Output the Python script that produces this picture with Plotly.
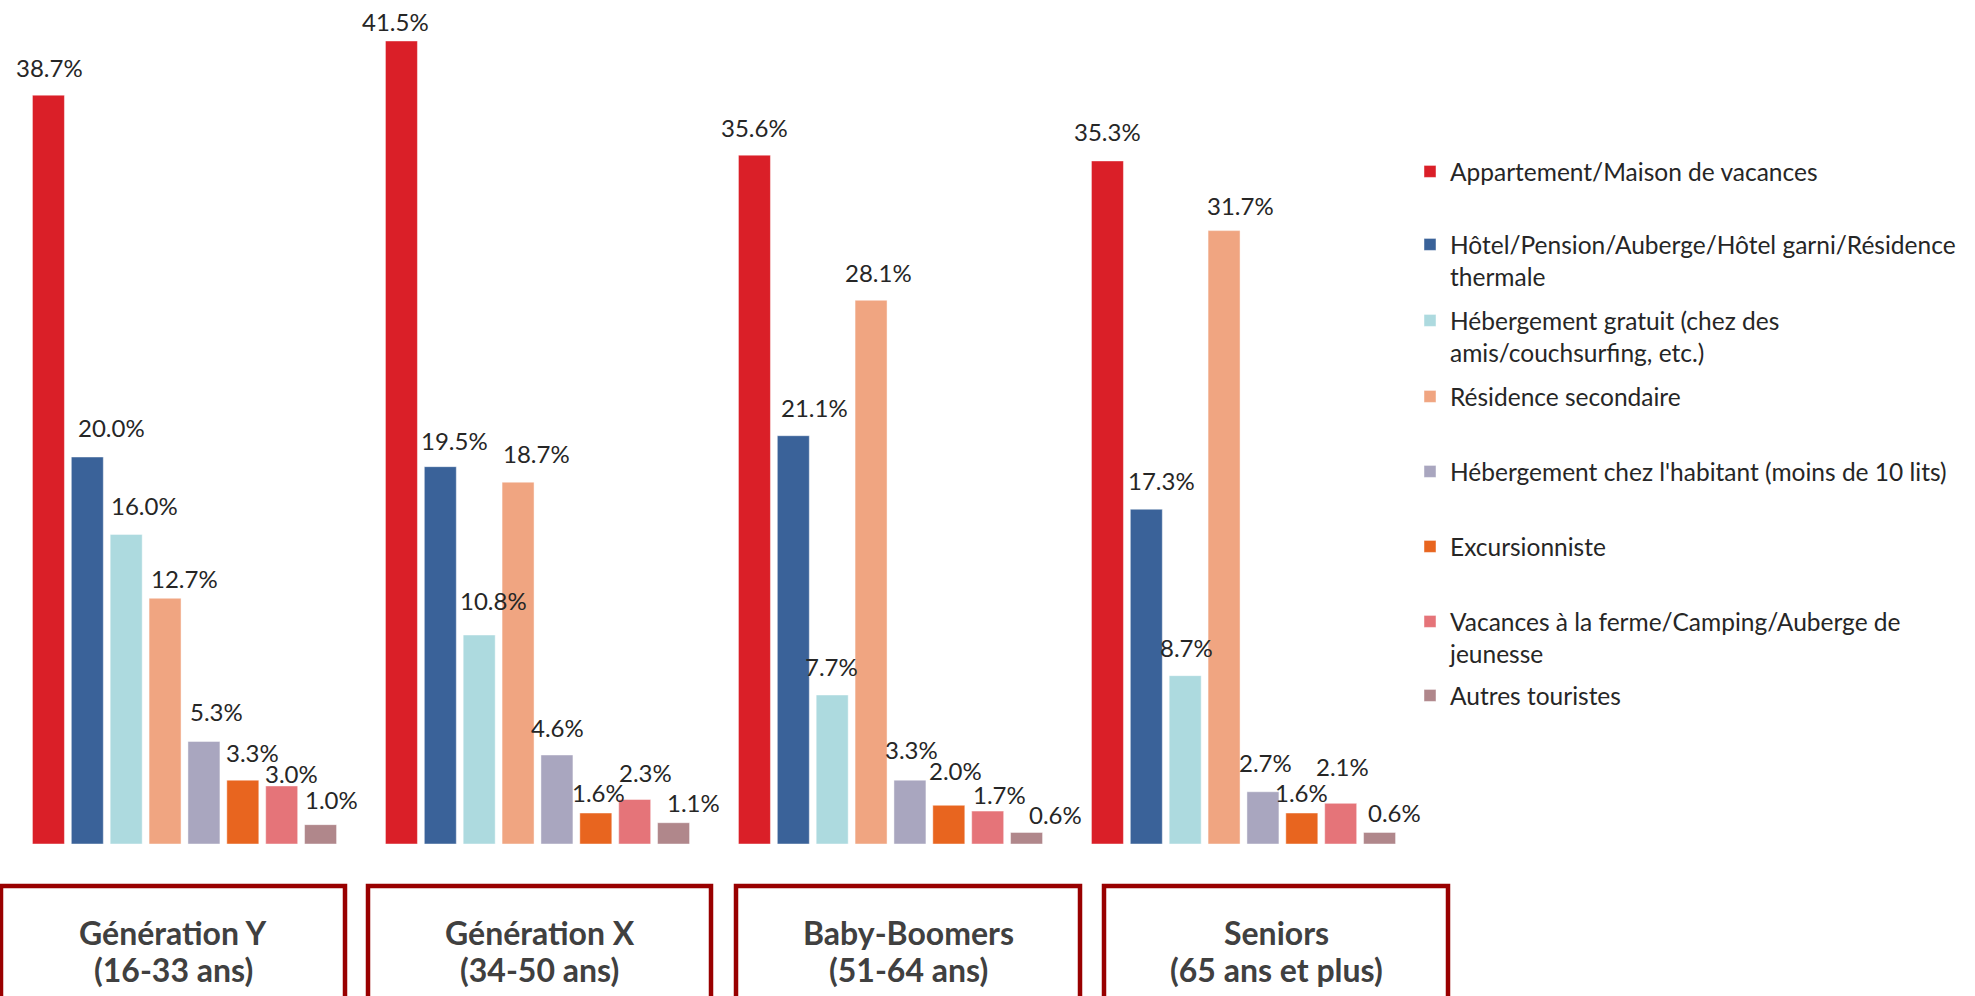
import plotly.graph_objects as go

# ---- data -------------------------------------------------------------
groups = ["Génération Y", "Génération X", "Baby-Boomers", "Seniors"]
group_ages = ["(16-33 ans)", "(34-50 ans)", "(51-64 ans)", "(65 ans et plus)"]

series_names = [
    "Appartement/Maison de vacances",
    "Hôtel/Pension/Auberge/Hôtel garni/Résidence<br>thermale",
    "Hébergement gratuit (chez des<br>amis/couchsurfing, etc.)",
    "Résidence secondaire",
    "Hébergement chez l'habitant (moins de 10 lits)",
    "Excursionniste",
    "Vacances à la ferme/Camping/Auberge de<br>jeunesse",
    "Autres touristes",
]

appartement = [38.7, 41.5, 35.6, 35.3]
hotel = [20.0, 19.5, 21.1, 17.3]
gratuit = [16.0, 10.8, 7.7, 8.7]
residence = [12.7, 18.7, 28.1, 31.7]
habitant = [5.3, 4.6, 3.3, 2.7]
excursion = [3.3, 1.6, 2.0, 1.6]
ferme = [3.0, 2.3, 1.7, 2.1]
autres = [1.0, 1.1, 0.6, 0.6]

series_values = [appartement, hotel, gratuit, residence, habitant, excursion, ferme, autres]

colors = ["#DA1F28", "#3A6299", "#ADDADF", "#F0A581",
          "#A9A6BF", "#E8651F", "#E57479", "#B0878B"]

# label nudges (px): horizontal shift and gap between text baseline and bar top
label_dx = [
    [1, -6, 0, 0],
    [5, -5, 2, -4],
    [-1, -5, -13, -11],
    [0, -1, -12, -3],
    [0, -12, -11, -10],
    [-3, -10, -6, -13],
    [-3, -2, -1, -11],
    [-2, 7, 16, 2],
]
label_gap = [
    [17, 9, 17, 19],
    [19, 16, 18, 18],
    [18, 24, 18, 18],
    [9, 18, 17, 15],
    [19, 17, 20, 19],
    [17, 10, 24, 10],
    [2, 17, 6, 26],
    [15, 10, 7, 9],
]

# ---- geometry ---------------------------------------------------------
W_FIG, H_FIG = 1975, 996
M_L, M_R, M_T, M_B = 8, 555, 4, 152
PLOT_W = W_FIG - M_L - M_R
PLOT_H = H_FIG - M_T - M_B
PX_PER_PCT = 19.35
Y_MAX = PLOT_H / PX_PER_PCT

BARGAP = 0.119
BARGROUPGAP = 0.177

FONT = "Lato, 'Open Sans', sans-serif"
TEXT_COLOR = "#262626"
BOX_COLOR = "#990000"


def px_x(px):
    return (px - M_L) / PLOT_W


def px_y(py):
    return (H_FIG - M_B - py) / PLOT_H


fig = go.Figure()

legend_keys = ["legend"] + [f"legend{i}" for i in range(2, 9)]

for i, (name, vals, col) in enumerate(zip(series_names, series_values, colors)):
    fig.add_trace(go.Bar(
        x=groups,
        y=vals,
        name=name,
        marker=dict(color=col, line=dict(color="rgba(255,255,255,0.45)", width=1)),
        legend=legend_keys[i],
        hovertemplate="%{x}<br>%{y:.1f}%<extra></extra>",
    ))

# ---- value labels -----------------------------------------------------
n_series = len(series_values)
slot = (1 - BARGAP) / n_series
bar_w = slot * (1 - BARGROUPGAP)
BASE_DROP = 6

annotations = []
for i, vals in enumerate(series_values):
    for k, v in enumerate(vals):
        centre = k - (1 - BARGAP) / 2 + (i + 0.5) * slot
        if i == 0:
            x, anchor = centre, "center"
        else:
            x, anchor = centre - bar_w / 2, "left"
        annotations.append(dict(
            x=x, y=v, xref="x", yref="y",
            text=f"{v:.1f}%",
            xanchor=anchor, yanchor="bottom",
            xshift=label_dx[i][k], yshift=label_gap[i][k] - BASE_DROP,
            showarrow=False,
            font=dict(family=FONT, size=24, color=TEXT_COLOR),
        ))

# ---- framed category captions ----------------------------------------
box_left = [1, 368, 736, 1104]
box_right = [345, 711, 1080, 1448]
BOX_TOP = 886
CAPTION_SIZE = 32
caption_baselines = [946, 983]

shapes = []
for k, (g, age) in enumerate(zip(groups, group_ages)):
    shapes.append(dict(
        type="rect", xref="paper", yref="paper",
        x0=px_x(box_left[k]), x1=px_x(box_right[k]),
        y0=px_y(BOX_TOP), y1=px_y(H_FIG + 20),
        line=dict(color=BOX_COLOR, width=4.5),
        fillcolor="rgba(0,0,0,0)",
    ))
    cx = (box_left[k] + box_right[k]) / 2
    for line_text, base in zip([g, age], caption_baselines):
        annotations.append(dict(
            x=px_x(cx), y=px_y(base + 0.213 * CAPTION_SIZE + 1),
            xref="paper", yref="paper",
            text=f"<b>{line_text}</b>",
            xanchor="center", yanchor="bottom",
            showarrow=False, align="center",
            font=dict(family=FONT, size=CAPTION_SIZE, color="#404040"),
        ))

# ---- legends, one per series -----------------------------------------
legend_baselines = [179, 252, 328, 404, 479, 554, 629, 703]
LEG_LEFT = 1410
LEG_TOP_OFFSET = 30
legends = {}
for i, key in enumerate(legend_keys):
    legends[key] = dict(
        x=px_x(LEG_LEFT), y=px_y(legend_baselines[i] - LEG_TOP_OFFSET),
        xanchor="left", yanchor="top",
        valign="top",
        bgcolor="rgba(0,0,0,0)", borderwidth=0,
        font=dict(family=FONT, size=24.5, color=TEXT_COLOR),
        itemclick=False, itemdoubleclick=False,
    )

fig.update_layout(
    width=W_FIG, height=H_FIG,
    margin=dict(l=M_L, r=M_R, t=M_T, b=M_B, autoexpand=False),
    paper_bgcolor="white", plot_bgcolor="white",
    barmode="group", bargap=BARGAP, bargroupgap=BARGROUPGAP,
    showlegend=True,
    xaxis=dict(type="category", range=[-0.5, 3.5], showticklabels=False,
               showgrid=False, zeroline=False, showline=False, ticks=""),
    yaxis=dict(range=[0, Y_MAX], showticklabels=False, showgrid=False,
               zeroline=False, showline=False, ticks=""),
    annotations=annotations,
    shapes=shapes,
    font=dict(family=FONT, color=TEXT_COLOR),
    **legends,
)

fig.write_html("out.html")
